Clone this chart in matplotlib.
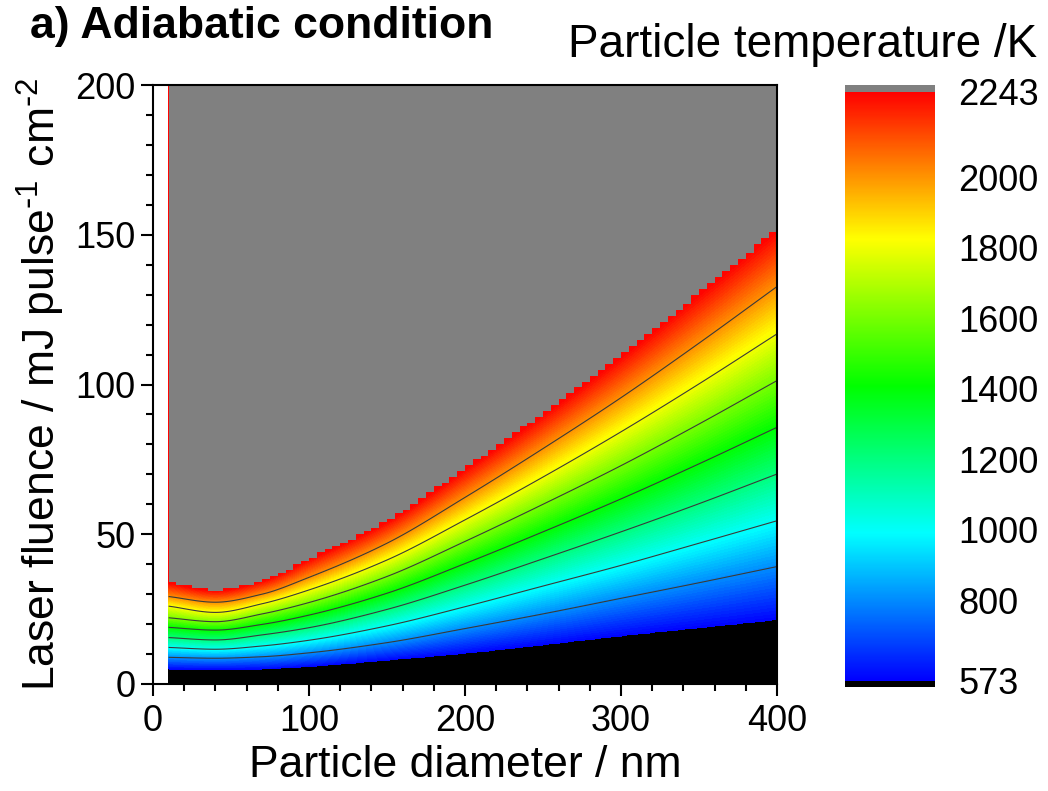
import numpy as np
import matplotlib
matplotlib.use('Agg')
import matplotlib.pyplot as plt
from matplotlib.colors import LinearSegmentedColormap, ListedColormap, Normalize
from matplotlib.cm import ScalarMappable
from matplotlib.ticker import MultipleLocator

plt.rcParams['font.family'] = ['Liberation Sans', 'DejaVu Sans']
plt.rcParams['mathtext.default'] = 'regular'

diam = [10, 40, 70, 100, 150, 200, 250, 300, 350, 400]

# fluence (mJ pulse-1 cm-2) of each isotherm at those diameters
f573 = [5.0, 4.9, 5.0, 5.8, 7.9, 10.2, 13.0, 16.0, 18.7, 21.4]
f800 = [8.9, 8.6, 9.1, 10.4, 13.8, 18.5, 23.4, 28.6, 33.8, 39.2]
f1000 = [12.2, 11.6, 12.7, 14.6, 19.4, 25.8, 32.7, 39.6, 47.0, 54.5]
f1200 = [15.5, 14.7, 16.4, 18.8, 24.9, 33.0, 41.8, 50.8, 60.2, 70.1]
f1400 = [18.9, 18.0, 19.9, 23.0, 30.3, 40.2, 50.8, 61.8, 73.5, 85.7]
f1600 = [22.1, 20.8, 23.4, 27.2, 35.9, 47.6, 60.0, 72.9, 86.8, 101.3]
f1800 = [26.0, 23.9, 26.8, 31.4, 41.4, 54.8, 69.1, 84.2, 100.2, 116.9]
f2000 = [29.2, 27.3, 30.0, 35.6, 47.0, 62.3, 78.6, 95.6, 113.8, 132.7]
f2243 = [34.0, 31.4, 34.6, 41.8, 54.5, 72.0, 90.3, 109.7, 130.6, 152.0]

temps = [573, 800, 1000, 1200, 1400, 1600, 1800, 2000, 2243]
iso = [f573, f800, f1000, f1200, f1400, f1600, f1800, f2000, f2243]
line_levels = [800, 1000, 1200, 1400, 1600, 1800, 2000]
cbar_ticks = [573, 800, 1000, 1200, 1400, 1600, 1800, 2000, 2243]
tmin, tmax = 573, 2243


def pchip(x, y, xi):
    # monotone cubic so the isotherms come out smooth between read points
    x = np.asarray(x, float)
    y = np.asarray(y, float)
    h = np.diff(x)
    delta = np.diff(y) / h
    m = np.zeros_like(y)
    m[0], m[-1] = delta[0], delta[-1]
    for k in range(1, len(x) - 1):
        if delta[k - 1] * delta[k] > 0:
            w1 = 2 * h[k] + h[k - 1]
            w2 = h[k] + 2 * h[k - 1]
            m[k] = (w1 + w2) / (w1 / delta[k - 1] + w2 / delta[k])
    i = np.clip(np.searchsorted(x, xi) - 1, 0, len(x) - 2)
    t = (xi - x[i]) / h[i]
    return ((2 * t**3 - 3 * t**2 + 1) * y[i] + (t**3 - 2 * t**2 + t) * h[i] * m[i]
            + (-2 * t**3 + 3 * t**2) * y[i + 1] + (t**3 - t**2) * h[i] * m[i + 1])


def temp_field(dd, ff):
    curves = [pchip(diam, f, dd) for f in iso]
    T = np.zeros((len(ff), len(dd)))
    for j in range(len(dd)):
        fl = [c[j] for c in curves]
        T[:, j] = np.interp(ff, fl, temps, left=300, right=3000)
    return T


d_fine = np.linspace(10, 400, 391)
f_fine = np.linspace(0, 200, 1001)
T = temp_field(d_fine, f_fine)

# coarse data grid -> stepped grey "above range" region
d_edges = np.arange(10, 401, 5)
f_edges = np.arange(0, 201, 1)
Tc = temp_field((d_edges[:-1] + d_edges[1:]) / 2, (f_edges[:-1] + f_edges[1:]) / 2)
over = np.ma.masked_where(Tc < tmax, np.ones_like(Tc))

cmap = LinearSegmentedColormap.from_list('rb', ['#0000ff', '#00ffff', '#00ff00', '#ffff00', '#ff0000'], N=512)
cmap.set_over('#808080')
cmap.set_under('#000000')

fig = plt.figure(figsize=(10.48, 7.91), dpi=100)
ax = fig.add_axes([0.146, 0.1353, 0.5954, 0.7572])

ax.contourf(d_fine, f_fine, np.minimum(T, tmax - 0.5), levels=np.linspace(tmin, tmax, 120),
            cmap=cmap, extend='both')
ax.contour(d_fine, f_fine, T, levels=line_levels, colors='#3a3a3a', linewidths=0.8)
ax.pcolormesh(d_edges, f_edges, over, cmap=ListedColormap(['#808080']))

ax.set_xlim(0, 400)
ax.set_ylim(0, 200)
ax.xaxis.set_major_locator(MultipleLocator(100))
ax.xaxis.set_minor_locator(MultipleLocator(20))
ax.yaxis.set_major_locator(MultipleLocator(50))
ax.yaxis.set_minor_locator(MultipleLocator(10))
ax.tick_params(which='both', direction='out', width=1.5, labelsize=26, top=False, right=False)
ax.tick_params(which='major', length=8.5)
ax.tick_params(which='minor', length=5)
ax.tick_params(axis='x', pad=6)
ax.tick_params(axis='y', pad=4)
for s in ax.spines.values():
    s.set_linewidth(1.5)
ax.set_xlabel('Particle diameter / nm', fontsize=32, labelpad=4)
ax.set_ylabel(r'Laser fluence / mJ pulse$^{\text{-}1}$ cm$^{\text{-}2}$', fontsize=32, labelpad=6)

cax = fig.add_axes([0.806, 0.1315, 0.086, 0.761])
cb = fig.colorbar(ScalarMappable(norm=Normalize(tmin, tmax), cmap=cmap), cax=cax,
                  extend='both', extendrect=True, extendfrac=0.011)
cb.outline.set_visible(False)
cb.set_ticks(cbar_ticks)
cb.set_ticklabels([str(t) for t in cbar_ticks])
cax.tick_params(length=0, labelsize=26, pad=17)

fig.text(0.990, 0.943, 'Particle temperature /K', fontsize=33, ha='right', va='center')
fig.text(0.029, 0.966, 'a) Adiabatic condition', fontsize=32, fontweight='bold', ha='left', va='center')

fig.savefig('out.png', dpi=100)
